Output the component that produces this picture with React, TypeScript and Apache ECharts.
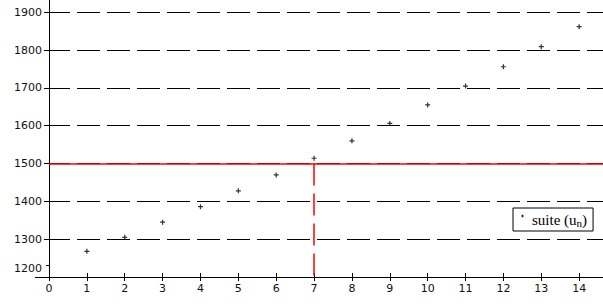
import React, { useEffect, useRef } from "react";
import * as echarts from "echarts";

const ranks = [1, 2, 3, 4, 5, 6, 7, 8, 9, 10, 11, 12, 13, 14];
const uValues = [1268, 1305, 1345, 1386, 1428, 1470, 1514, 1560, 1606, 1655, 1705, 1756, 1809, 1862];
const xTicks = [0, 1, 2, 3, 4, 5, 6, 7, 8, 9, 10, 11, 12, 13, 14];
const yTicks = [1200, 1300, 1400, 1500, 1600, 1700, 1800, 1900];
const threshold = 1500;
const thresholdRank = 7;
const X_MAX = 14.63;
const Y_MIN = 1200;
const Y_MAX = 1932.5;

const PLUS = "path://M2,0h1.3v5.3h-1.3zM0,2h5.3v1.3h-5.3z";
const LEGEND_PLUS = "path://M1,0h1v3h-1zM0,1h3v1h-3zM1.5,9.99h0.01v0.01h-0.01z";

const labelFont = { fontFamily: "DejaVu Sans", fontSize: 11, color: "#111" };

export default function App() {
  const ref = useRef<HTMLDivElement>(null);
  useEffect(() => {
    if (!ref.current) return;
    const chart = echarts.init(ref.current, null, { renderer: "svg" });
    const data = ranks.map((n, i) => [n, uValues[i]]);
    chart.setOption({
      animation: false,
      backgroundColor: "#fff",
      grid: { left: 49, right: 0, top: 0, bottom: 27, containLabel: false },
      xAxis: [
        {
          type: "value",
          min: 0,
          max: X_MAX,
          interval: 1,
          axisLine: { show: true, onZero: false, lineStyle: { color: "#000", width: 1 } },
          axisTick: { show: true, inside: false, length: 4, customValues: xTicks, lineStyle: { color: "#000" } },
          axisLabel: { customValues: xTicks, margin: 6, ...labelFont },
          splitLine: { show: false },
        },
        {
          type: "value",
          min: 0,
          max: X_MAX,
          interval: 1,
          position: "bottom",
          axisLine: { show: false },
          axisTick: { show: true, inside: true, length: 4, customValues: xTicks, lineStyle: { color: "#000" } },
          axisLabel: { show: false },
          splitLine: { show: false },
        },
      ],
      yAxis: {
        type: "value",
        min: Y_MIN,
        max: Y_MAX,
        interval: 100,
        axisLine: { show: true, onZero: false, lineStyle: { color: "#000", width: 1 } },
        axisTick: { show: true, length: 5, customValues: yTicks.filter((v) => v !== 1200), lineStyle: { color: "#000" } },
        axisLabel: {
          customValues: yTicks,
          margin: 7,
          ...labelFont,
          formatter: (v: number) => (v === 1200 ? "{lo|1200}" : String(v)),
          rich: { lo: { ...labelFont, padding: [0, 0, 18, 0] } },
        },
        splitLine: {
          show: true,
          showMinLine: true,
          showMaxLine: true,
          lineStyle: { color: "#000", width: 1, type: [23, 7], dashOffset: 2 },
        },
      },
      legend: {
        show: true,
        data: [{ name: "suite", icon: LEGEND_PLUS }],
        left: 513,
        top: 208,
        orient: "horizontal",
        itemWidth: 3,
        itemHeight: 10,
        itemGap: 0,
        padding: [3, 6, 3, 8],
        borderColor: "#000",
        borderWidth: 1,
        borderRadius: 0,
        backgroundColor: "#fff",
        formatter: () => "{a|suite (u}{b|n}{a|)}",
        textStyle: {
          rich: {
            a: { fontFamily: "Liberation Serif", fontSize: 15, color: "#000", lineHeight: 18 },
            b: { fontFamily: "Liberation Serif", fontSize: 11, color: "#000", lineHeight: 18, padding: [6, 0, 0, 0] },
          },
          padding: [0, 0, 0, 3],
        },
      },
      series: [
        {
          name: "suite",
          type: "scatter",
          data,
          symbol: PLUS,
          symbolSize: 5,
          itemStyle: { color: "#000" },
          z: 5,
          markLine: {
            silent: true,
            symbol: "none",
            label: { show: false },
            data: [
              [
                { coord: [0, threshold], lineStyle: { color: "#ff0000", width: 1.5, type: "solid" } },
                { coord: [X_MAX, threshold] },
              ],
              [
                { coord: [thresholdRank, threshold], lineStyle: { color: "#ff0000", width: 1.5, type: [22, 8] } },
                { coord: [thresholdRank, Y_MIN] },
              ],
            ],
          },
        },
      ],
      graphic: [
        { type: "line", shape: { x1: 35, y1: 277.5, x2: 49, y2: 277.5 }, style: { stroke: "#000", lineWidth: 1 } },
        { type: "line", shape: { x1: 49.5, y1: 277, x2: 49.5, y2: 281 }, style: { stroke: "#000", lineWidth: 1 } },
        { type: "line", shape: { x1: 46, y1: 265.5, x2: 49, y2: 265.5 }, style: { stroke: "#000", lineWidth: 1 } },
      ],
    });
    return () => chart.dispose();
  }, []);
  return <div ref={ref} style={{ position: "fixed", left: 0, top: 0, width: 603, height: 304 }} />;
}
